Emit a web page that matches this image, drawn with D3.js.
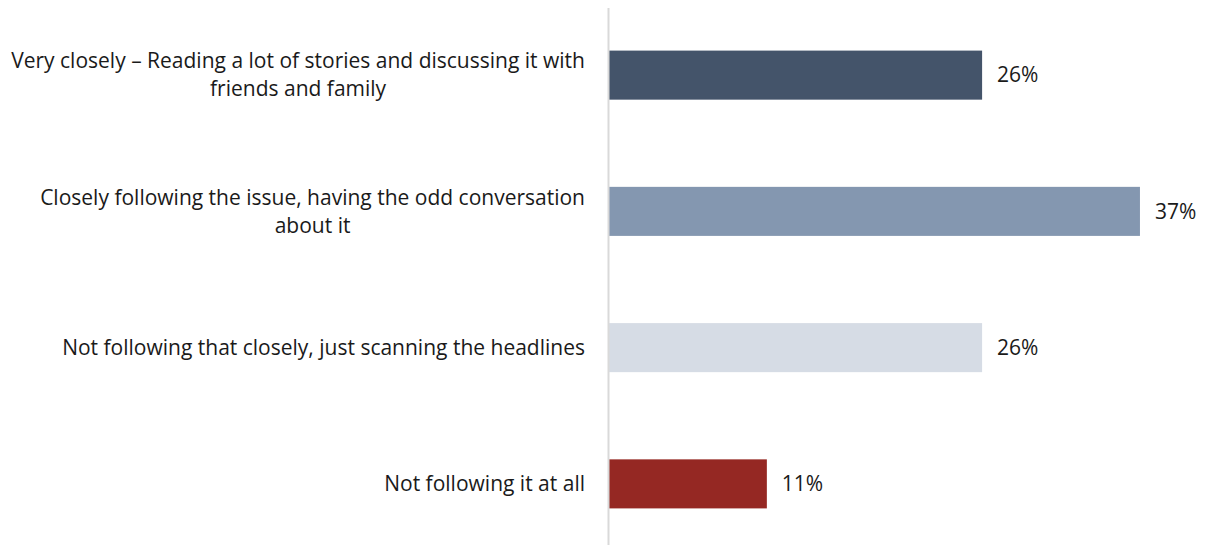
<!DOCTYPE html>
<html>
<head>
<meta charset="utf-8">
<script src="https://cdn.jsdelivr.net/npm/d3@7/dist/d3.min.js"></script>
<style>
  html, body { margin: 0; padding: 0; background: #ffffff; }
  svg { display: block; }
  text { font-family: "Open Sans", "Lato", sans-serif; fill: #1a1a1a; }
</style>
</head>
<body>
<svg id="chart" width="1206" height="545"></svg>
<script>
// Survey responses: how closely people follow the issue
const categories = [
  ["Very closely \u2013 Reading a lot of stories and discussing it with", "friends and family"],
  ["Closely following the issue, having the odd conversation", "about it"],
  ["Not following that closely, just scanning the headlines"],
  ["Not following it at all"]
];
const values = [26, 37, 26, 11];
const valueLabels = ["26%", "37%", "26%", "11%"];
const barColors = ["#44546a", "#8497b0", "#d6dce5", "#952823"];

const svg = d3.select("#chart");
const W = 1206, H = 545;
const axisX = 609;
const labelRight = 585;
const fontSize = 21;
const lineGap = 28;

const y = d3.scaleBand()
  .domain(d3.range(categories.length))
  .range([7, 552])
  .paddingInner(0.64)
  .paddingOuter(0.32);

const x = d3.scaleLinear()
  .domain([0, 40])
  .range([axisX, axisX + 574]);

// bars
svg.append("g")
  .selectAll("rect")
  .data(values)
  .join("rect")
  .attr("x", x(0))
  .attr("y", (d, i) => y(i))
  .attr("width", d => x(d) - x(0))
  .attr("height", y.bandwidth())
  .attr("fill", (d, i) => barColors[i]);

// vertical category axis line
svg.append("line")
  .attr("x1", axisX - 0.5).attr("x2", axisX - 0.5)
  .attr("y1", 8).attr("y2", H)
  .attr("stroke", "#d9d9d9")
  .attr("stroke-width", 2);

// value labels
svg.append("g")
  .selectAll("text")
  .data(values)
  .join("text")
  .attr("x", d => x(d) + 15)
  .attr("y", (d, i) => y(i) + y.bandwidth() / 2)
  .attr("dy", "0.35em")
  .style("font-size", fontSize + "px")
  .text((d, i) => valueLabels[i]);

// category labels: lines centred on each other, block right-aligned
const catG = svg.append("g");
categories.forEach((lines, i) => {
  const cy = y(i) + y.bandwidth() / 2;
  const g = catG.append("g");
  const texts = lines.map((ln, k) =>
    g.append("text")
      .attr("y", cy + (k - (lines.length - 1) / 2) * lineGap)
      .attr("dy", "0.35em")
      .attr("text-anchor", "middle")
      .style("font-size", fontSize + "px")
      .text(ln)
  );
  const maxW = d3.max(texts, t => t.node().getComputedTextLength());
  texts.forEach(t => t.attr("x", labelRight - maxW / 2));
});
</script>
</body>
</html>
